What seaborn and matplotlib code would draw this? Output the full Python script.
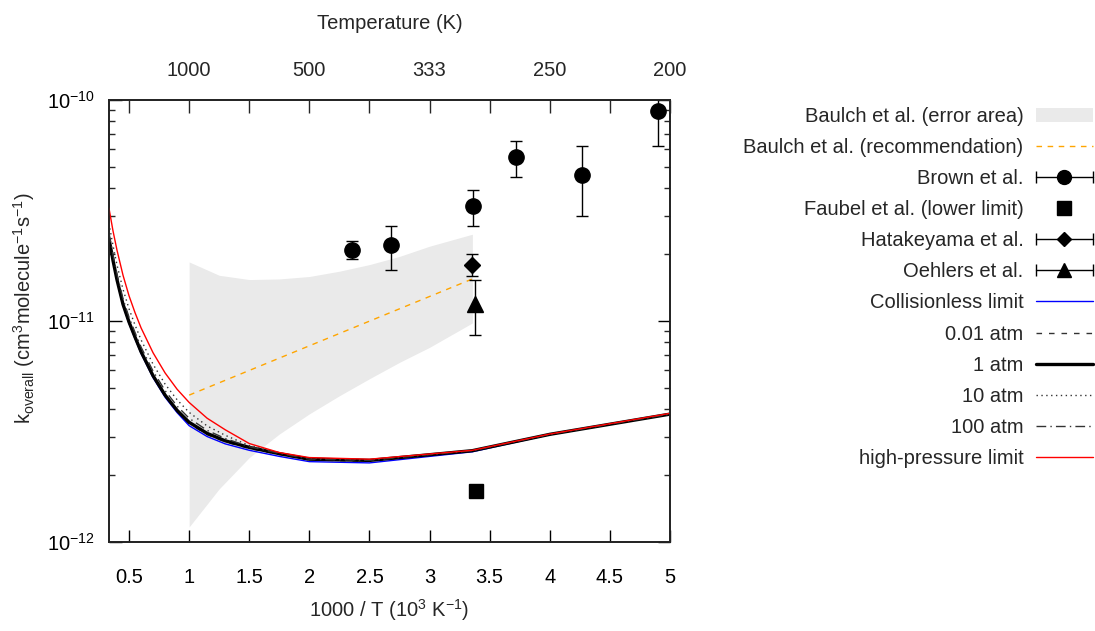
import numpy as np
import pandas as pd
import matplotlib
matplotlib.use("Agg")
import matplotlib.pyplot as plt
import seaborn as sns
from matplotlib.lines import Line2D
from matplotlib.patches import Patch
from matplotlib.legend_handler import HandlerBase
from matplotlib.ticker import NullFormatter, FixedLocator

# ---------------- data (rate constants in units of 1e-12 cm^3 molecule^-1 s^-1) ----------------
inv_T_model = [0.333, 0.367, 0.4, 0.45, 0.5, 0.55, 0.6, 0.7, 0.8, 0.9, 1.0,
               1.15, 1.3, 1.5, 1.75, 2.0, 2.5, 3.356, 4.0, 5.0]
k_collisionless = [23.5, 18.6, 15.2, 11.75, 9.75, 8.32, 7.14, 5.54, 4.52, 3.85, 3.36,
                   3.0, 2.78, 2.60, 2.44, 2.31, 2.28, 2.56, 3.06, 3.79]
k_0p01atm = [23.6, 18.7, 15.3, 11.85, 9.85, 8.4, 7.22, 5.61, 4.58, 3.9, 3.44,
             3.06, 2.84, 2.65, 2.49, 2.35, 2.32, 2.58, 3.07, 3.79]
k_1atm = [23.6, 18.75, 15.35, 11.89, 9.89, 8.45, 7.26, 5.65, 4.62, 3.94, 3.48,
          3.10, 2.87, 2.68, 2.51, 2.37, 2.34, 2.59, 3.07, 3.79]
k_10atm = [27.6, 21.9, 17.9, 13.9, 11.35, 9.58, 8.22, 6.37, 5.18, 4.40, 3.86,
           3.35, 3.04, 2.73, 2.53, 2.39, 2.35, 2.59, 3.07, 3.80]
k_100atm = [25.1, 19.9, 16.3, 12.6, 10.4, 8.87, 7.62, 5.93, 4.84, 4.12, 3.63,
            3.20, 2.94, 2.70, 2.52, 2.37, 2.34, 2.59, 3.07, 3.79]
k_high_pressure = [32.4, 25.5, 20.9, 16.1, 13.0, 10.9, 9.31, 7.18, 5.82, 4.91, 4.28,
                   3.63, 3.22, 2.79, 2.54, 2.41, 2.37, 2.60, 3.08, 3.82]

inv_T_baulch = [1.0, 1.25, 1.5, 1.75, 2.0, 2.25, 2.5, 2.75, 3.0, 3.356]
k_baulch_upper = [18.5, 16.1, 15.4, 15.5, 15.9, 16.8, 18.0, 19.6, 21.8, 24.7]
k_baulch_lower = [1.17, 1.74, 2.41, 3.08, 3.80, 4.59, 5.48, 6.5, 7.6, 9.8]
inv_T_baulch_rec = [1.0, 3.356]
k_baulch_rec = [4.62, 15.5]

inv_T_brown = [2.356, 2.68, 3.36, 3.72, 4.27, 4.90]
k_brown = [21.0, 22.0, 33.0, 55.0, 46.0, 89.0]
err_brown = [2.0, 5.0, 6.0, 10.0, 16.0, 27.0]

inv_T_faubel = [3.385]
k_faubel = [1.7]

inv_T_hatakeyama = [3.352]
k_hatakeyama = [18.0]
err_hatakeyama = [2.0]

inv_T_oehlers = [3.38]
k_oehlers = [12.0]
err_oehlers = [3.4]

temperature_ticks = [1000, 500, 333, 250, 200]
series_names = ["Collisionless limit", "0.01 atm", "1 atm", "10 atm", "100 atm", "high-pressure limit"]

SCALE = 1e-12

# ---------------- style ----------------
sns.set_theme(style="ticks")
plt.rcParams["font.family"] = ["Liberation Sans", "DejaVu Sans"]
plt.rcParams["mathtext.fontset"] = "custom"
plt.rcParams["mathtext.rm"] = "Liberation Sans"
plt.rcParams["mathtext.it"] = "Liberation Sans:italic"
plt.rcParams["mathtext.default"] = "regular"
plt.rcParams["axes.unicode_minus"] = False
FS = 14.5

fig = plt.figure(figsize=(10.95, 6.31), dpi=100)
ax = fig.add_axes([109 / 1095, (631 - 542) / 631, 561 / 1095, 442 / 631])

# Baulch error area and recommendation
fill_color = "#eaeaea"
ax.fill_between(inv_T_baulch, np.array(k_baulch_lower) * SCALE, np.array(k_baulch_upper) * SCALE,
                color=fill_color, lw=0, zorder=1)
rec_dashes = (4, 4)
ax.plot(inv_T_baulch_rec, np.array(k_baulch_rec) * SCALE, color="#ffa500", lw=1,
        dashes=rec_dashes, zorder=2)

# experimental points
cap = 4.5
ax.errorbar(inv_T_brown, np.array(k_brown) * SCALE, yerr=np.array(err_brown) * SCALE, fmt="o",
            color="black", ms=11, capsize=cap, elinewidth=1, capthick=1, zorder=5)
ax.plot(inv_T_faubel, np.array(k_faubel) * SCALE, "s", color="black", ms=10, zorder=5)
ax.errorbar(inv_T_hatakeyama, np.array(k_hatakeyama) * SCALE, yerr=np.array(err_hatakeyama) * SCALE,
            fmt="D", color="black", ms=8, capsize=cap, elinewidth=1, capthick=1, zorder=5)
ax.errorbar(inv_T_oehlers, np.array(k_oehlers) * SCALE, yerr=np.array(err_oehlers) * SCALE,
            fmt="^", color="black", ms=11, capsize=cap, elinewidth=1, capthick=1, zorder=5)

# model curves
model = pd.DataFrame({
    "inv_T": inv_T_model * 6,
    "k": np.concatenate([k_collisionless, k_0p01atm, k_1atm, k_10atm, k_100atm, k_high_pressure]) * SCALE,
    "series": np.repeat(series_names, len(inv_T_model)),
})
palette = {"Collisionless limit": "#0000ff", "0.01 atm": "#333333", "1 atm": "black",
           "10 atm": "#333333", "100 atm": "#333333", "high-pressure limit": "#ff0000"}
dashes = {"Collisionless limit": "", "0.01 atm": (4, 5), "1 atm": "",
          "10 atm": (1, 2.5), "100 atm": (7, 3, 1, 3), "high-pressure limit": ""}
sizes = {"Collisionless limit": 1.0, "0.01 atm": 1.0, "1 atm": 2.4,
         "10 atm": 1.0, "100 atm": 1.0, "high-pressure limit": 1.0}
sns.lineplot(data=model, x="inv_T", y="k", hue="series", style="series", size="series",
             hue_order=series_names, style_order=series_names, size_order=series_names,
             palette=palette, dashes=dashes, sizes=sizes, estimator=None, sort=True,
             legend=False, ax=ax, zorder=4)

# axes
ax.set_yscale("log")
ax.set_xlim(1 / 3, 5)
ax.set_ylim(1e-12, 1e-10)
ax.yaxis.set_major_locator(FixedLocator([1e-12, 1e-11, 1e-10]))
ax.yaxis.set_minor_locator(FixedLocator([m * d for d in (1e-12, 1e-11) for m in range(2, 10)]))
ax.yaxis.set_minor_formatter(NullFormatter())
xt = np.arange(0.5, 5.01, 0.5)
ax.set_xticks(xt)
ax.set_xticklabels([f"{v:g}" for v in xt])
ax.tick_params(axis="both", which="major", direction="in", length=9, width=1, labelsize=FS,
               top=False, right=True, colors="black")
ax.tick_params(axis="both", which="minor", direction="in", length=4.5, width=1, top=False, right=True)
ax.tick_params(axis="x", pad=19)
ax.tick_params(axis="y", pad=10.5)
for s in ax.spines.values():
    s.set_linewidth(1.2)
    s.set_color("black")

ax_top = ax.twiny()
ax_top.set_xlim(ax.get_xlim())
top_pos = {round(1000 / T * 2) / 2: str(T) for T in temperature_ticks}
ax_top.set_xticks(xt)
ax_top.set_xticklabels([top_pos.get(v, "") for v in xt])
ax_top.tick_params(axis="x", which="major", direction="in", length=9, width=1, labelsize=FS, pad=14.5)
ax_top.set_xlabel("Temperature (K)", fontsize=FS)
ax_top.xaxis.set_label_coords(0.5, 1.16)
for s in ax_top.spines.values():
    s.set_linewidth(1.2)

ax.set_xlabel(r"1000 / T (10$^{3}$ K$^{-1}$)", fontsize=FS)
ax.xaxis.set_label_coords(0.5, -0.125)
ax.set_ylabel(r"k$_{overall}$ (cm$^{3}$molecule$^{-1}$s$^{-1}$)", fontsize=FS)
ax.yaxis.set_label_coords(-0.128, 0.53)


# legend: error-bar entries drawn as horizontal bar with end caps
class CapLineHandler(HandlerBase):
    def create_artists(self, legend, orig_handle, xdescent, ydescent, width, height, fontsize, trans):
        y = height / 2 - ydescent
        x0, x1 = -xdescent, -xdescent + width
        bar = Line2D([x0, x1], [y, y], color="black", lw=1)
        caps = Line2D([x0, x1], [y, y], ls="none", marker="|", ms=9, mew=1, color="black")
        mark = Line2D([(x0 + x1) / 2], [y], ls="none", marker=orig_handle.get_marker(),
                      ms=orig_handle.get_markersize(), color="black")
        for a in (bar, caps, mark):
            a.set_transform(trans)
        return [bar, caps, mark]


h_area = Patch(facecolor=fill_color, edgecolor="none")
h_rec = Line2D([], [], color="#ffa500", lw=1, dashes=rec_dashes)
h_brown = Line2D([], [], marker="o", ms=10, color="black")
h_faubel = Line2D([], [], marker="s", ms=10, ls="none", color="black")
h_hata = Line2D([], [], marker="D", ms=7.5, color="black")
h_oeh = Line2D([], [], marker="^", ms=10, color="black")
line_handles = []
for n in series_names:
    h = Line2D([], [], color=palette[n], lw=sizes[n])
    if dashes[n]:
        h.set_dashes(dashes[n])
    line_handles.append(h)

handles = [h_area, h_rec, h_brown, h_faubel, h_hata, h_oeh] + line_handles
labels = ["Baulch et al. (error area)", "Baulch et al. (recommendation)", "Brown et al.",
          "Faubel et al. (lower limit)", "Hatakeyama et al.", "Oehlers et al."] + series_names
cap_handler = CapLineHandler()
fig.legend(handles, labels, loc="upper right", bbox_to_anchor=(1093 / 1095, 1 - 107 / 631),
           frameon=False, markerfirst=False, fontsize=FS, handlelength=2.85, handletextpad=0.6,
           labelspacing=0.6, borderaxespad=0, borderpad=0,
           handler_map={h_brown: cap_handler, h_hata: cap_handler, h_oeh: cap_handler})

fig.savefig("out.png", dpi=100)
